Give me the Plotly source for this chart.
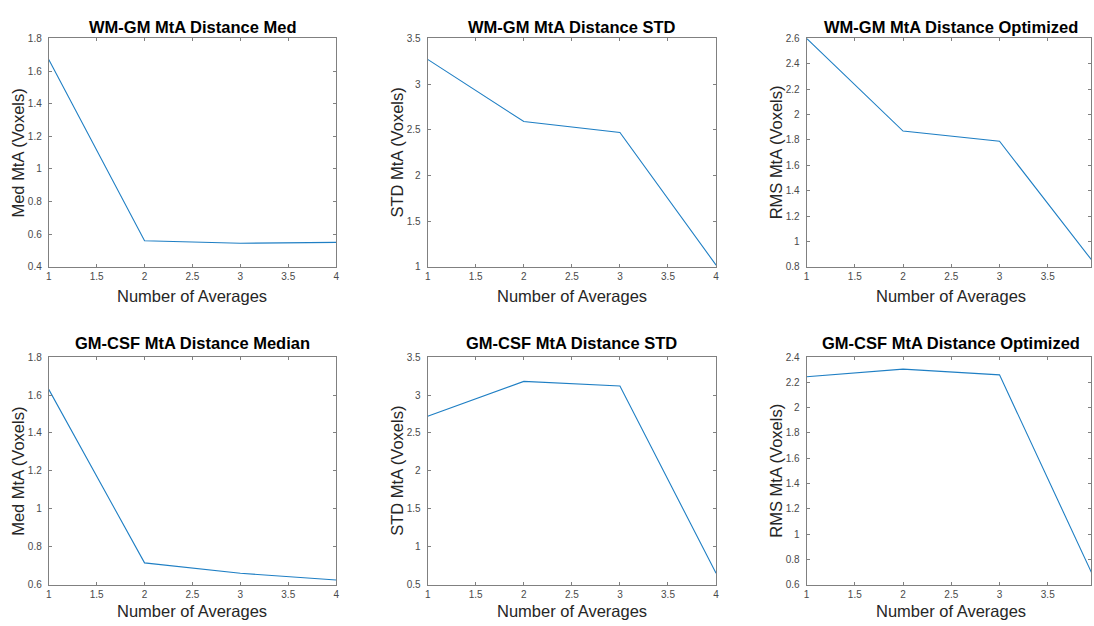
import plotly.graph_objects as go

W, H = 1094, 626

n_averages = [1, 2, 3, 4]

wm_gm_med = [1.67, 0.56, 0.545, 0.55]
wm_gm_std = [3.27, 2.59, 2.47, 1.02]
wm_gm_opt = [2.60, 1.87, 1.79, 0.81]
gm_csf_med = [1.63, 0.715, 0.66, 0.625]
gm_csf_std = [2.72, 3.18, 3.12, 0.65]
gm_csf_opt = [2.245, 2.305, 2.26, 0.62]

titles = [
    "WM-GM MtA Distance Med", "WM-GM MtA Distance STD", "WM-GM MtA Distance Optimized",
    "GM-CSF MtA Distance Median", "GM-CSF MtA Distance STD", "GM-CSF MtA Distance Optimized",
]
ylabels = [
    "Med MtA (Voxels)", "STD MtA (Voxels)", "RMS MtA (Voxels)",
    "Med MtA (Voxels)", "STD MtA (Voxels)", "RMS MtA (Voxels)",
]
xlabel = "Number of Averages"
series = [wm_gm_med, wm_gm_std, wm_gm_opt, gm_csf_med, gm_csf_std, gm_csf_opt]
yranges = [[0.4, 1.8], [1, 3.5], [0.8, 2.6], [0.6, 1.8], [0.5, 3.5], [0.6, 2.4]]
ydticks = [0.2, 0.5, 0.2, 0.2, 0.5, 0.2]

# pixel boxes: left, right, top, bottom ; right column axis extends past image edge
boxes = [
    (46, 335, 33, 266), (427, 717, 33, 266), (808, 1094, 33, 266),
    (46, 335, 358, 590), (427, 717, 358, 590), (808, 1094, 358, 590),
]
# full (unclipped) axes width for right column: x=4 at ~1099
xranges = [[1, 4], [1, 4], [1, 4 - (1099 - 1094) / 97.0],
           [1, 4], [1, 4], [1, 4 - (1099 - 1094) / 97.0]]
title_cx = [190.5, 572, 953.5, 190.5, 572, 953.5]
title_y = [21, 21, 21, 344, 344, 344]
xlab_y = [296, 296, 296, 617, 617, 617]
ylab_x = [15, 396, 777, 15, 396, 777]

FONT = "Liberation Sans, Arial, Helvetica, sans-serif"
AXC = "#808080"
TICKC = "#4a4a4a"

fig = go.Figure()
layout = dict(
    width=W, height=H, margin=dict(l=0, r=0, t=0, b=0),
    paper_bgcolor="white", plot_bgcolor="white", showlegend=False,
    font=dict(family=FONT, color="#262626"),
)
annotations = []
for i in range(6):
    k = "" if i == 0 else str(i + 1)
    l, r, t, b = boxes[i]
    fig.add_trace(go.Scatter(
        x=n_averages, y=series[i], mode="lines",
        line=dict(color="#1f7fc4", width=1.1),
        xaxis="x" + k, yaxis="y" + k, hoverinfo="skip",
    ))
    layout["xaxis" + k] = dict(
        domain=[l / W, r / W], anchor="y" + k, range=xranges[i],
        dtick=0.5, tick0=1, ticks="inside", ticklen=3, tickcolor=AXC,
        showline=True, linecolor=AXC, linewidth=1, mirror="ticks",
        showgrid=False, zeroline=False,
        tickfont=dict(size=10, color=TICKC, family=FONT),
    )
    layout["yaxis" + k] = dict(
        domain=[1 - b / H, 1 - t / H], anchor="x" + k, range=yranges[i],
        dtick=ydticks[i], tick0=0, ticks="inside", ticklen=3, tickcolor=AXC,
        showline=True, linecolor=AXC, linewidth=1, mirror="ticks",
        showgrid=False, zeroline=False, ticklabelstandoff=4,
        tickfont=dict(size=10, color=TICKC, family=FONT),
    )
    annotations.append(dict(
        text="<b>" + titles[i] + "</b>", x=title_cx[i] / W, y=1 - title_y[i] / H,
        xref="paper", yref="paper", xanchor="center", yanchor="middle",
        showarrow=False, font=dict(size=16.5, color="#000000", family=FONT),
    ))
    annotations.append(dict(
        text=xlabel, x=title_cx[i] / W, y=1 - xlab_y[i] / H,
        xref="paper", yref="paper", xanchor="center", yanchor="middle",
        showarrow=False, font=dict(size=16.5, color="#262626", family=FONT),
    ))
    annotations.append(dict(
        text=ylabels[i], x=ylab_x[i] / W, y=1 - ((t + b) / 2) / H,
        xref="paper", yref="paper", xanchor="center", yanchor="middle",
        textangle=-90, showarrow=False,
        font=dict(size=16.5, color="#262626", family=FONT),
    ))
layout["annotations"] = annotations
fig.update_layout(**layout)
fig.write_html("out.html", config={"displayModeBar": False})
